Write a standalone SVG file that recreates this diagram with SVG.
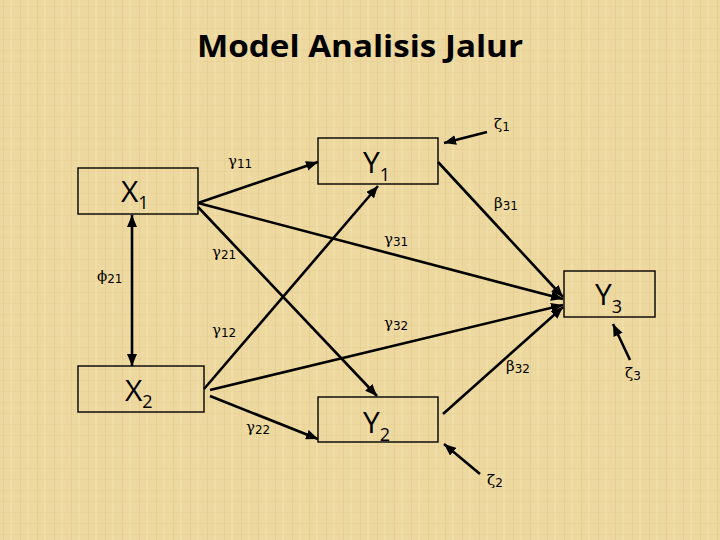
<svg xmlns="http://www.w3.org/2000/svg" width="720" height="540" viewBox="0 0 720 540">
<defs>
<pattern id="tex" width="17" height="11" patternUnits="userSpaceOnUse">
<rect width="17" height="11" fill="#EDD89F"/>
<rect x="3" width="1" height="11" fill="#D8BF80" opacity="0.3"/>
<rect x="10" width="2" height="11" fill="#F6E6BA" opacity="0.4"/>
<rect y="6" width="17" height="1" fill="#D8BF80" opacity="0.2"/>
</pattern>
<marker id="ah" markerWidth="13" markerHeight="10" refX="12" refY="5" orient="auto" markerUnits="userSpaceOnUse">
<path d="M0,0 L12,5 L0,10 Z" fill="#000"/>
</marker>
<marker id="ahs" markerWidth="13" markerHeight="10" refX="12" refY="5" orient="auto-start-reverse" markerUnits="userSpaceOnUse">
<path d="M0,0 L12,5 L0,10 Z" fill="#000"/>
</marker>
</defs>
<style>
.box{fill:none;stroke:#000;stroke-width:1.4}
.nl{font-family:"Open Sans","Liberation Sans",sans-serif;font-size:30px;fill:#000}
.ns{font-size:18px}
.gk{font-family:"DejaVu Serif","Liberation Serif",serif;font-size:15px;fill:#000}
.sb{font-family:"DejaVu Sans","Liberation Sans",sans-serif;font-size:12px}
.cn{fill:none;stroke:#000;stroke-width:2.6}
.title{font-family:"Open Sans","Liberation Sans",sans-serif;font-weight:bold;font-size:31px;fill:#000}
</style>
<rect width="720" height="540" fill="url(#tex)"/>
<text class="title" x="197" y="57" textLength="326" lengthAdjust="spacingAndGlyphs">Model Analisis Jalur</text>

<g id="connectors">
<line class="cn" x1="198" y1="203" x2="318" y2="162" marker-end="url(#ah)"/>
<line class="cn" x1="198" y1="207" x2="377" y2="396" marker-end="url(#ah)"/>
<line class="cn" x1="198" y1="203" x2="563" y2="299" marker-end="url(#ah)"/>
<line class="cn" x1="204" y1="389" x2="378" y2="186" marker-end="url(#ah)"/>
<line class="cn" x1="210" y1="390" x2="563" y2="305" marker-end="url(#ah)"/>
<line class="cn" x1="210" y1="396" x2="318" y2="439" marker-end="url(#ah)"/>
<line class="cn" x1="438" y1="162" x2="563" y2="297" marker-end="url(#ah)"/>
<line class="cn" x1="443" y1="414" x2="563" y2="307" marker-end="url(#ah)"/>
<line class="cn" x1="132" y1="215" x2="132" y2="366" marker-start="url(#ahs)" marker-end="url(#ahs)"/>
<line class="cn" x1="487" y1="132" x2="444" y2="143" marker-end="url(#ah)"/>
<line class="cn" x1="480" y1="474" x2="444" y2="444" marker-end="url(#ah)"/>
<line class="cn" x1="630" y1="360" x2="613" y2="324" marker-end="url(#ah)"/>
</g>

<g id="X1"><rect class="box" x="78" y="168" width="120" height="46"/><text class="nl" x="121" y="202">X<tspan class="ns" dy="7">1</tspan></text></g>
<g id="Y1"><rect class="box" x="318" y="138" width="120" height="46"/><text class="nl" x="363" y="173">Y<tspan class="ns" dy="8">1</tspan></text></g>
<g id="X2"><rect class="box" x="78" y="366" width="126" height="46"/><text class="nl" x="125" y="401">X<tspan class="ns" dy="7">2</tspan></text></g>
<g id="Y2"><rect class="box" x="318" y="397" width="120" height="45"/><text class="nl" x="363" y="433">Y<tspan class="ns" dy="8">2</tspan></text></g>
<g id="Y3"><rect class="box" x="564" y="271" width="91" height="46"/><text class="nl" x="595" y="305">Y<tspan class="ns" dy="8">3</tspan></text></g>

<g id="labels">
<text class="gk" x="228" y="166">γ<tspan class="sb" dy="2">11</tspan></text>
<text class="gk" x="494" y="208">β<tspan class="sb" dy="2">31</tspan></text>
<text class="gk" x="384" y="244">γ<tspan class="sb" dy="2">31</tspan></text>
<text class="gk" x="212" y="257">γ<tspan class="sb" dy="2">21</tspan></text>
<text class="gk" x="97" y="281">ϕ<tspan class="sb" dy="2">21</tspan></text>
<text class="gk" x="212" y="335">γ<tspan class="sb" dy="2">12</tspan></text>
<text class="gk" x="384" y="328">γ<tspan class="sb" dy="2">32</tspan></text>
<text class="gk" x="506" y="371">β<tspan class="sb" dy="2">32</tspan></text>
<text class="gk" x="246" y="432">γ<tspan class="sb" dy="2">22</tspan></text>
<text class="gk" x="494" y="129">ζ<tspan class="sb" dy="2">1</tspan></text>
<text class="gk" x="487" y="485">ζ<tspan class="sb" dy="2">2</tspan></text>
<text class="gk" x="625" y="378">ζ<tspan class="sb" dy="2">3</tspan></text>
</g>
</svg>
